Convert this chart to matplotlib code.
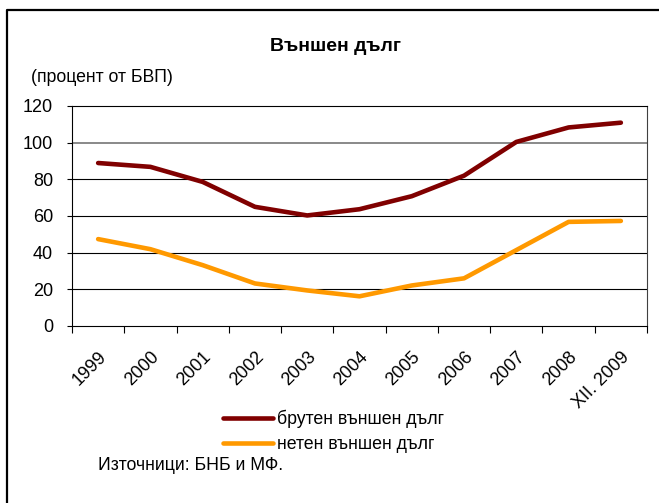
import matplotlib
matplotlib.use('Agg')
import matplotlib.pyplot as plt
import matplotlib.transforms as mtransforms
from matplotlib.lines import Line2D

plt.rcParams['font.family'] = ['Liberation Sans', 'DejaVu Sans']

years = ['1999', '2000', '2001', '2002', '2003', '2004', '2005', '2006',
         '2007', '2008', 'XII. 2009']
gross_debt = [88.9, 86.8, 78.6, 65.0, 60.3, 63.7, 70.8, 82.0, 100.4, 108.3, 110.9]
net_debt = [47.4, 41.9, 33.2, 23.2, 19.4, 16.2, 22.1, 26.0, 41.4, 56.8, 57.3]

W, H = 659, 503
fig = plt.figure(figsize=(W / 100, H / 100), dpi=100)
ax = fig.add_axes([72 / W, 1 - 326 / H, 575 / W, 220 / H])

x = list(range(len(years)))
ax.plot(x, gross_debt, color='#800000', lw=3.3, solid_capstyle='round',
        label='брутен външен дълг')
ax.plot(x, net_debt, color='#FF9900', lw=3.3, solid_capstyle='round',
        label='нетен външен дълг')

ax.set_xlim(-0.5, len(years) - 0.5)
ax.set_ylim(0, 120)
ax.set_yticks(range(0, 121, 20))
for v in range(20, 120, 20):
    ax.axhline(v, color='#808080' if v == 100 else 'black',
               lw=1.3 if v == 100 else 0.8, zorder=0.5)

# boundary ticks between categories, labels at centres
ax.set_xticks([i - 0.5 for i in range(len(years) + 1)], minor=True)
ax.set_xticks(x)
ax.set_xticklabels(years, rotation=45, ha='right', va='top',
                   rotation_mode='anchor', fontsize=13)
shift = mtransforms.ScaledTranslation(-9 / 100, 0, fig.dpi_scale_trans)
for lbl in ax.get_xticklabels():
    lbl.set_transform(lbl.get_transform() + shift)
ax.tick_params(axis='x', which='major', length=0, pad=16)
ax.tick_params(axis='x', which='minor', length=5, width=0.8, color='black')
ax.tick_params(axis='y', length=3.6, width=0.8, labelsize=13, pad=10)

for side in ['left', 'bottom', 'top']:
    ax.spines[side].set_color('black')
    ax.spines[side].set_linewidth(0.8)
ax.spines['right'].set_color('#404040')
ax.spines['right'].set_linewidth(0.8)

fig.text(336 / W, 1 - 46 / H, 'Външен дълг', ha='center', va='center',
         fontsize=14, fontweight='bold')
fig.text(31 / W, 1 - 77 / H, '(процент от БВП)', ha='left', va='center',
         fontsize=12.7)
fig.text(98 / W, 1 - 466 / H, 'Източници: БНБ и МФ.', ha='left', va='center',
         fontsize=12.7)

fig.legend(loc='upper left', bbox_to_anchor=(223 / W, 1 - 410 / H),
           frameon=False, fontsize=12.8, handlelength=2.8, handletextpad=0.25,
           labelspacing=0.42, borderpad=0, borderaxespad=0)

# outer frame (only top and left edges visible)
fig.add_artist(Line2D([7 / W, 7 / W, 1.01], [-0.01, 1 - 10 / H, 1 - 10 / H],
                      transform=fig.transFigure, color='black', lw=1.6))

fig.savefig('out.png', dpi=100)
